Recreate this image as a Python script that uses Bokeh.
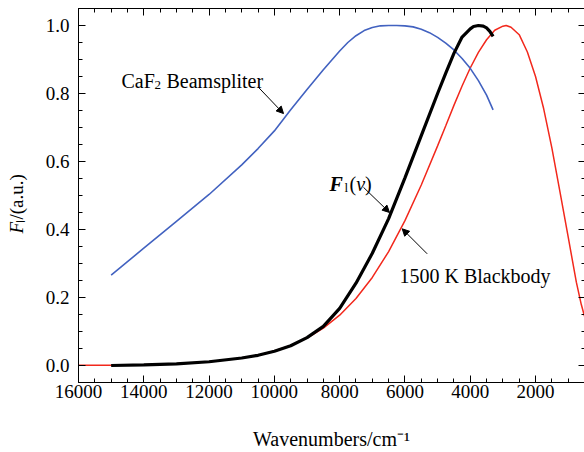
from bokeh.plotting import figure
from bokeh.models import (Range1d, LinearAxis, SingleIntervalTicker,
                          NumeralTickFormatter, Label, Arrow, NormalHead)
from bokeh.embed import file_html
from bokeh.resources import INLINE
import math

# ---- data ----
beamsplitter_nu = [15000, 14000, 13000, 12000, 11000, 10500, 10000, 9500, 9000, 8500, 8000,
                   7750, 7500, 7250, 7000, 6750, 6500, 6250, 6000, 5750, 5500, 5250, 5000,
                   4750, 4500, 4250, 4000, 3750, 3500, 3300]
beamsplitter_val = [0.266, 0.345, 0.424, 0.503, 0.590, 0.638, 0.690, 0.752, 0.812, 0.870, 0.925,
                    0.950, 0.970, 0.985, 0.994, 0.999, 1.000, 1.000, 0.999, 0.996, 0.989, 0.979, 0.965,
                    0.948, 0.928, 0.903, 0.874, 0.838, 0.795, 0.752]

fl_nu = [15000, 14000, 13000, 12000, 11000, 10500, 10000, 9500, 9000, 8500, 8000, 7500,
         7000, 6500, 6000, 5500, 5000, 4750, 4500, 4250, 4000, 3900, 3750, 3600, 3500, 3400, 3300]
fl_val = [0.000, 0.002, 0.005, 0.011, 0.022, 0.030, 0.042, 0.058, 0.082, 0.115, 0.168, 0.242,
          0.330, 0.432, 0.552, 0.676, 0.800, 0.860, 0.918, 0.966, 0.990, 0.997, 1.000, 0.998,
          0.993, 0.983, 0.968]

bb_nu = [16000, 15000, 14000, 13000, 12000, 11000, 10500, 10000, 9500, 9000, 8500, 8000, 7500,
         7000, 6500, 6000, 5500, 5000, 4750, 4500, 4250, 4000, 3750, 3500, 3250, 3000, 2900,
         2750, 2500, 2250, 2000, 1750, 1500, 1250, 1000, 750, 600, 500]
bb_val = [0.0005, 0.001, 0.0025, 0.0052, 0.0108, 0.0217, 0.030, 0.0424, 0.0587, 0.0806, 0.1098,
          0.148, 0.197, 0.259, 0.335, 0.426, 0.531, 0.646, 0.705, 0.765, 0.822, 0.875, 0.921,
          0.958, 0.986, 0.998, 1.000, 0.995, 0.973, 0.922, 0.850, 0.755, 0.640, 0.510, 0.378,
          0.245, 0.180, 0.145]

x_title = "Wavenumbers/cm\u207b\u00b9"

SERIF = "'Liberation Serif', 'Times New Roman', serif"

p = figure(width=584, height=452, x_range=Range1d(16000, 500), y_range=Range1d(-0.05, 1.05),
           output_backend="svg", toolbar_location=None,
           x_axis_location=None, y_axis_location=None,
           min_border_left=78, min_border_right=0, min_border_top=8, min_border_bottom=70)
p.background_fill_color = "white"
p.border_fill_color = "white"
p.outline_line_color = None
p.xgrid.grid_line_color = None
p.ygrid.grid_line_color = None


def make_axis(ticker, labels, fmt=None, standoff=2):
    ax = LinearAxis(ticker=ticker)
    ax.axis_line_color = "black"
    ax.axis_line_width = 1
    ax.major_tick_in = 7
    ax.major_tick_out = 0
    ax.minor_tick_in = 4
    ax.minor_tick_out = 0
    ax.major_tick_line_color = "black"
    ax.minor_tick_line_color = "black"
    if labels:
        ax.major_label_text_font = SERIF
        ax.major_label_text_font_size = "19px"
        ax.major_label_text_color = "black"
        ax.major_label_standoff = standoff
        if fmt:
            ax.formatter = fmt
    else:
        ax.major_label_text_font_size = "1px"
        ax.major_label_text_color = None
        ax.major_label_standoff = 0
    return ax


def x_ticker():
    return SingleIntervalTicker(interval=2000, num_minor_ticks=4)


def y_ticker():
    return SingleIntervalTicker(interval=0.2, num_minor_ticks=4)


bottom_ax = make_axis(x_ticker(), True, standoff=2)
bottom_ax.axis_label = x_title
bottom_ax.axis_label_text_font = SERIF
bottom_ax.axis_label_text_font_size = "20px"
bottom_ax.axis_label_text_font_style = "normal"
bottom_ax.axis_label_text_color = "black"
bottom_ax.axis_label_standoff = 27
p.add_layout(bottom_ax, "below")
p.add_layout(make_axis(y_ticker(), True, NumeralTickFormatter(format="0.0"), standoff=9), "left")
p.add_layout(make_axis(x_ticker(), False), "above")
right_ax = make_axis(y_ticker(), False)
right_ax.axis_line_color = None
right_ax.major_tick_in = 6
right_ax.minor_tick_in = 3
p.add_layout(right_ax, "right")

p.line(bb_nu, bb_val, line_color="#f2281c", line_width=1.5)
p.line(beamsplitter_nu, beamsplitter_val, line_color="#4262c0", line_width=1.6)
p.line(fl_nu, fl_val, line_color="black", line_width=3.2)


def lab(x, y, text, size="20px", style="normal", xo=0, yo=0, angle=0, units="data",
        side=None, lh=1.2):
    lb = Label(x=x, y=y, text=text, text_font=SERIF, text_font_size=size,
               text_font_style=style, text_color="black", x_offset=xo, y_offset=yo,
               angle=angle, text_baseline="alphabetic", text_align="left",
               x_units=units, y_units=units, text_line_height=lh)
    if side is None:
        p.add_layout(lb)
    else:
        p.add_layout(lb, side)


def arrow(xs, ys, xe, ye):
    p.add_layout(Arrow(end=NormalHead(size=7, fill_color="black", line_color="black"),
                       x_start=xs, y_start=ys, x_end=xe, y_end=ye,
                       line_color="black", line_width=1))


# CaF2 Beamspliter
lab(14683, 0.838, "CaF")
lab(14683, 0.838, "2", size="13px", xo=33, yo=-4)
lab(14683, 0.838, "Beamspliter", xo=45)
arrow(10486, 0.818, 9720, 0.741)

# F_l(v)
lab(8311, 0.535, "F", style="bold italic")
lab(8311, 0.535, "l", size="13px", xo=15, yo=-4)
lab(8311, 0.535, "(", xo=20)
lab(8311, 0.535, "v", style="italic", xo=26.7)
lab(8311, 0.535, ")", xo=35.5)
arrow(7270, 0.524, 6473, 0.450)

# 1500 K Blackbody
lab(6167, 0.262, "1500 K Blackbody")
arrow(5319, 0.3285, 6084, 0.402)

# y axis title (rotated, canvas pixels, in the left panel so it is not clipped)
a = math.pi / 2
lab(16, 233, "F", size="19px", style="italic", angle=a, units="canvas", side="left", lh=0.8)
lab(16, 233, "\u2097/(a.u.)", size="19px", angle=a, yo=11, units="canvas", side="left", lh=0.8)

open("out.html", "w").write(file_html(p, INLINE))
